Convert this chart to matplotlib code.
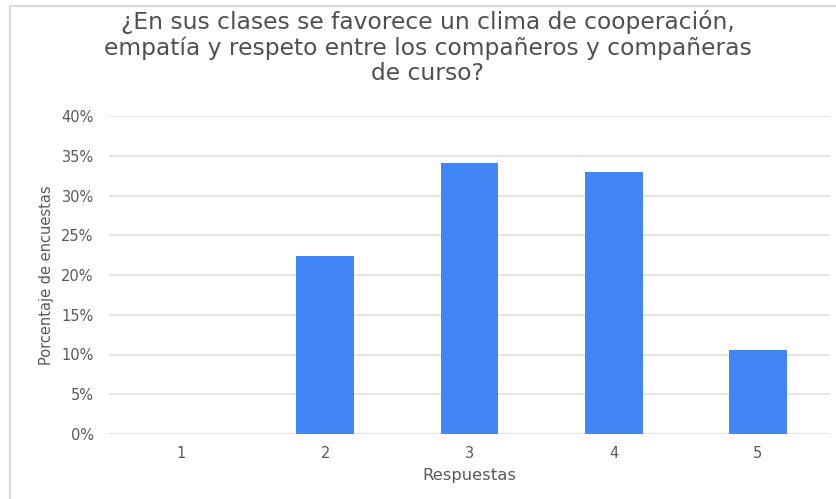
import numpy as np
import matplotlib.pyplot as plt
from matplotlib.lines import Line2D
from matplotlib.ticker import PercentFormatter

plt.rcParams['font.family'] = ['DejaVu Sans']

# Data
respuestas = ['1', '2', '3', '4', '5']
porcentaje = [0.0, 22.35, 34.1, 32.95, 10.6]
y_ticks = [0, 5, 10, 15, 20, 25, 30, 35, 40]

titulo = ('¿En sus clases se favorece un clima de cooperación,\n'
          'empatía y respeto entre los compañeros y compañeras\n'
          'de curso?')

W, H = 837, 499
fig = plt.figure(figsize=(W / 100, H / 100), dpi=100)
ax = fig.add_axes([109 / W, 65 / H, (830 - 109) / W, (434 - 116) / H])

x = np.arange(len(respuestas))
ax.bar(x, porcentaje, width=0.4, color='#4285F4', zorder=3)

ax.set_xlim(-0.5, len(respuestas) - 0.5)
ax.set_ylim(0, 40)
ax.set_yticks(y_ticks)
ax.yaxis.set_major_formatter(PercentFormatter(decimals=0))
ax.set_xticks(x)
ax.set_xticklabels(respuestas)

ax.grid(axis='y', color='#e0e0e0', linewidth=1.2, zorder=0)
for s in ax.spines.values():
    s.set_visible(False)
ax.tick_params(axis='both', length=0, labelsize=10.5, labelcolor='#595959')
ax.tick_params(axis='y', pad=11)
ax.tick_params(axis='x', pad=9)

ax.set_xlabel('Respuestas', fontsize=11.8, color='#595959', labelpad=5)
ax.set_ylabel('Porcentaje de encuestas', fontsize=10.5, color='#595959', labelpad=5)

fig.text(428 / W, 1 - 47.5 / H, titulo, ha='center', va='center',
         fontsize=16.8, color='#505050', linespacing=1.1)

# frame lines of the screenshot
fig.add_artist(Line2D([10 / W, 1], [1 - 5.5 / H, 1 - 5.5 / H], color='#d9d9d9', lw=1.6))
fig.add_artist(Line2D([10 / W, 10 / W], [0, 1 - 5.5 / H], color='#d9d9d9', lw=1.6))

fig.savefig('out.png', dpi=100)
